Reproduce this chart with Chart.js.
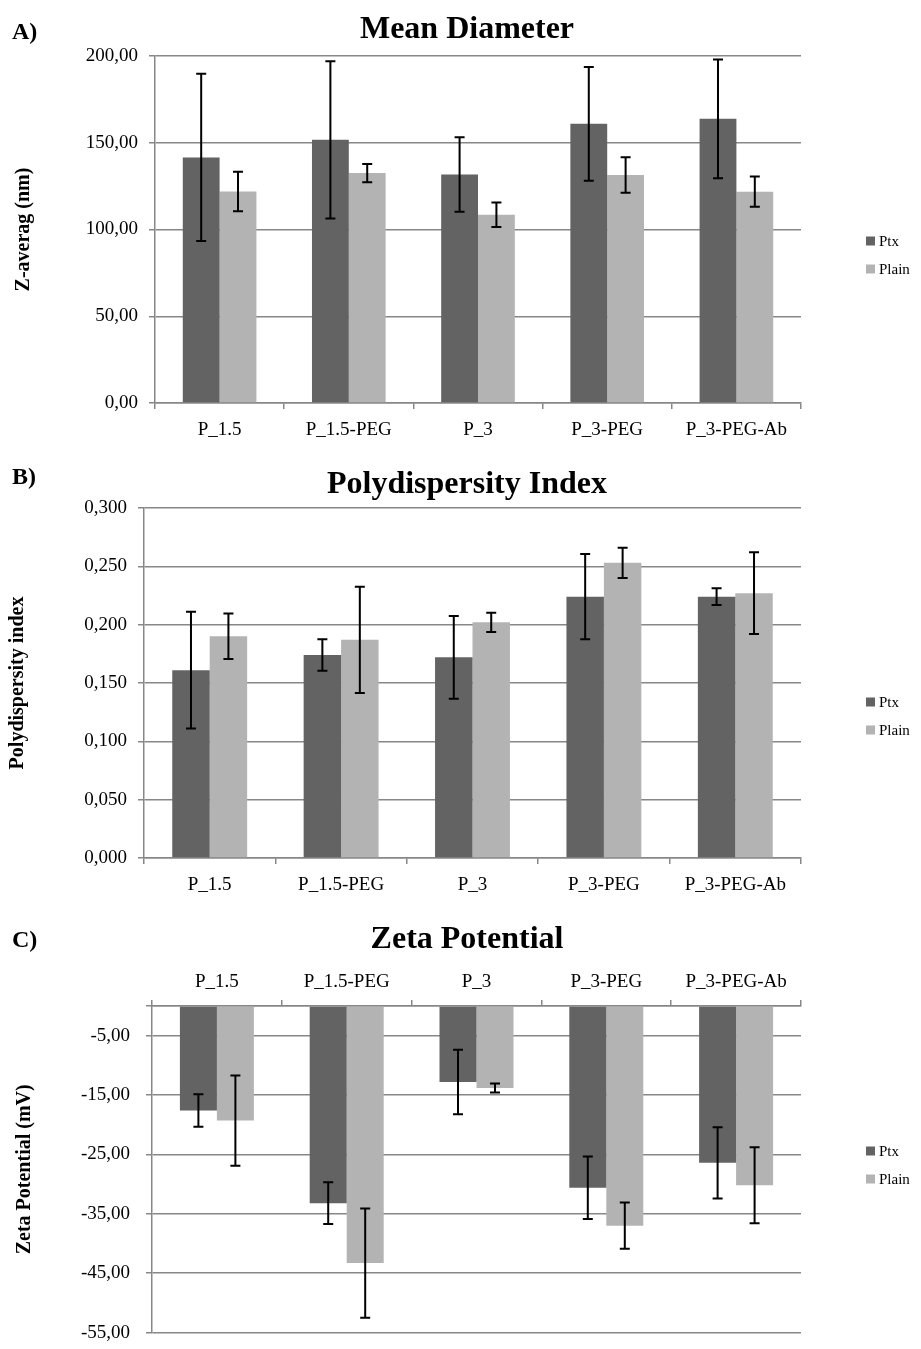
<!DOCTYPE html>
<html><head><meta charset="utf-8">
<script src="https://cdn.jsdelivr.net/npm/chart.js@4.4.1/dist/chart.umd.min.js"></script>
<style>
html,body{margin:0;padding:0;background:#fff;overflow:hidden;width:921px;height:1349px;}
.panel{position:absolute;left:0;width:921px;}
</style></head><body>
<div class="panel" style="top:0;height:450px"><canvas id="cA"></canvas></div>
<div class="panel" style="top:450px;height:460px"><canvas id="cB"></canvas></div>
<div class="panel" style="top:910px;height:450px"><canvas id="cC"></canvas></div>
<script>
// ---- data ----
const categories = ['P_1.5', 'P_1.5-PEG', 'P_3', 'P_3-PEG', 'P_3-PEG-Ab'];
const seriesNames = ['Ptx', 'Plain'];

const diamPtx      = [141.5, 151.7, 131.7, 160.9, 163.8];
const diamPtxErr   = [48.2, 45.3, 21.4, 32.8, 34.2];
const diamPlain    = [121.9, 132.5, 108.5, 131.4, 121.8];
const diamPlainErr = [11.4, 5.3, 7.0, 10.2, 8.7];

const pdiPtx      = [0.161, 0.174, 0.172, 0.224, 0.224];
const pdiPtxErr   = [0.050, 0.0135, 0.0355, 0.0365, 0.0072];
const pdiPlain    = [0.190, 0.187, 0.202, 0.253, 0.227];
const pdiPlainErr = [0.0195, 0.0455, 0.0083, 0.013, 0.035];

const zetaPtx      = [-17.6, -33.2, -12.8, -30.6, -26.4];
const zetaPtxErr   = [2.75, 3.5, 5.45, 5.25, 6.0];
const zetaPlain    = [-19.3, -43.3, -13.8, -37.0, -30.2];
const zetaPlainErr = [7.6, 9.2, 0.75, 3.9, 6.4];

const yTicksA = [0, 50, 100, 150, 200];
const yTicksB = [0, 0.05, 0.10, 0.15, 0.20, 0.25, 0.30];
const yTicksC = [-55, -45, -35, -25, -15, -5, 0];

// ---- styling ----
const FONT = '"Liberation Serif", "Times New Roman", serif';
Chart.defaults.font.family = FONT;
Chart.defaults.color = '#000';
const C_PTX = '#636363', C_PLAIN = '#b3b3b3', C_GRID = '#878787';

const fmt = (v, d) => v.toFixed(d).replace('.', ',');

const errorBars = {
  id: 'errorBars',
  afterDatasetsDraw(chart) {
    const ctx = chart.ctx, ys = chart.scales.y;
    chart.data.datasets.forEach((ds, i) => {
      const meta = chart.getDatasetMeta(i);
      meta.data.forEach((bar, j) => {
        const v = ds.data[j], e = ds.errors[j];
        const y1 = ys.getPixelForValue(v + e), y2 = ys.getPixelForValue(v - e);
        const cap = 5;
        ctx.save();
        ctx.strokeStyle = '#000'; ctx.lineWidth = 2;
        ctx.beginPath();
        ctx.moveTo(bar.x, y1); ctx.lineTo(bar.x, y2);
        ctx.moveTo(bar.x - cap, y1); ctx.lineTo(bar.x + cap, y1);
        ctx.moveTo(bar.x - cap, y2); ctx.lineTo(bar.x + cap, y2);
        ctx.stroke();
        ctx.restore();
      });
    });
  }
};

const decor = {
  id: 'decor',
  afterDraw(chart, args, o) {
    const ctx = chart.ctx;
    ctx.save();
    ctx.fillStyle = '#000';
    ctx.textBaseline = 'middle';
    ctx.textAlign = 'left';
    ctx.font = 'bold 24px ' + FONT;
    ctx.fillText(o.letter, 12, o.letterY);
    ctx.font = 'bold 32px ' + FONT;
    ctx.textAlign = 'center';
    ctx.fillText(o.title, o.titleX, o.titleY);
    ctx.font = '15px ' + FONT;
    ctx.textAlign = 'left';
    chart.data.datasets.forEach((ds, i) => {
      const y = o.legendY[i];
      ctx.fillStyle = ds.backgroundColor;
      ctx.fillRect(866, y - 4.5, 9, 9);
      ctx.fillStyle = '#000';
      ctx.fillText(ds.label, 879, y + 1);
    });
    ctx.restore();
  }
};

function makeChart(id, p) {
  return new Chart(document.getElementById(id), {
    type: 'bar',
    data: {
      labels: categories,
      datasets: [
        { label: seriesNames[0], data: p.ptx, errors: p.ptxErr, backgroundColor: C_PTX,
          categoryPercentage: 0.57, barPercentage: 1.0, borderWidth: 0 },
        { label: seriesNames[1], data: p.plain, errors: p.plainErr, backgroundColor: C_PLAIN,
          categoryPercentage: 0.57, barPercentage: 1.0, borderWidth: 0 }
      ]
    },
    options: {
      responsive: true,
      maintainAspectRatio: false,
      animation: false,
      layout: { padding: { left: 0, right: 120, top: p.padTop, bottom: p.padBottom } },
      plugins: {
        legend: { display: false },
        title: { display: false },
        tooltip: { enabled: false },
        decor: p.decor
      },
      scales: {
        x: {
          position: p.xPos,
          grid: { drawOnChartArea: false, drawTicks: true, tickLength: 6, color: C_GRID, lineWidth: 1.5 },
          border: { color: C_GRID, width: 1.5 },
          ticks: { font: { size: 19 }, color: '#000', padding: p.xPad, autoSkip: false, maxRotation: 0 },
          afterFit: s => { s.height = p.xHeight; }
        },
        y: {
          min: p.yMin, max: p.yMax,
          grid: { color: C_GRID, lineWidth: 1.5, tickLength: 6 },
          border: { color: C_GRID, width: 1.5 },
          ticks: {
            font: { size: 19 }, color: '#000', padding: p.yPad,
            callback: v => (p.hideZero && v === 0) ? '' : fmt(v, p.dec)
          },
          afterBuildTicks: s => { s.ticks = p.yTicks.map(v => ({ value: v })); },
          title: { display: true, text: p.yTitle, font: { size: 20, weight: 'bold' }, color: '#000',
                   padding: { top: p.yTitlePad, bottom: 0 } },
          afterFit: s => { s.width = p.yWidth; }
        }
      }
    },
    plugins: [errorBars, decor]
  });
}

makeChart('cA', {
  ptx: diamPtx, ptxErr: diamPtxErr, plain: diamPlain, plainErr: diamPlainErr,
  yMin: 0, yMax: 200, yTicks: yTicksA, dec: 2, hideZero: false,
  yTitle: 'Z-averag (nm)', yTitlePad: 12, yWidth: 155, yPad: 11,
  xPos: 'bottom', xHeight: 47, xPad: 10, padTop: 56, padBottom: 0,
  decor: { letter: 'A)', letterY: 33, title: 'Mean Diameter', titleX: 467, titleY: 30, legendY: [241, 269] }
});

makeChart('cB', {
  ptx: pdiPtx, ptxErr: pdiPtxErr, plain: pdiPlain, plainErr: pdiPlainErr,
  yMin: 0, yMax: 0.3, yTicks: yTicksB, dec: 3, hideZero: false,
  yTitle: 'Polydispersity index', yTitlePad: 6, yWidth: 144, yPad: 11,
  xPos: 'bottom', xHeight: 52, xPad: 10, padTop: 58, padBottom: 0,
  decor: { letter: 'B)', letterY: 28, title: 'Polydispersity Index', titleX: 467, titleY: 35, legendY: [252, 280] }
});

makeChart('cC', {
  ptx: zetaPtx, ptxErr: zetaPtxErr, plain: zetaPlain, plainErr: zetaPlainErr,
  yMin: -55, yMax: 0, yTicks: yTicksC, dec: 2, hideZero: true,
  yTitle: 'Zeta Potential (mV)', yTitlePad: 13, yWidth: 152, yPad: 16,
  xPos: 'top', xHeight: 96, xPad: 7, padTop: 0, padBottom: 20,
  decor: { letter: 'C)', letterY: 31, title: 'Zeta Potential', titleX: 467, titleY: 30, legendY: [241, 269] }
});
</script>
</body></html>
